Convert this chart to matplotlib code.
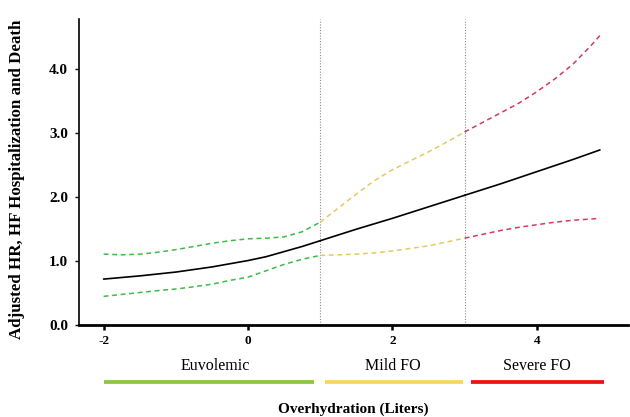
import matplotlib
matplotlib.use("Agg")
import matplotlib.pyplot as plt
from matplotlib.transforms import blended_transform_factory

plt.rcParams['font.family'] = ['Liberation Serif', 'DejaVu Serif']

# ---- data ----
x_eu = [-2.0, -1.75, -1.5, -1.25, -1.0, -0.75, -0.5, -0.25, 0.0, 0.25, 0.5, 0.75, 1.0]
hr_eu = [0.71, 0.735, 0.76, 0.79, 0.82, 0.86, 0.90, 0.95, 1.00, 1.06, 1.14, 1.22, 1.31]
up_eu = [1.10, 1.09, 1.10, 1.13, 1.17, 1.22, 1.27, 1.31, 1.34, 1.35, 1.37, 1.45, 1.60]
lo_eu = [0.44, 0.47, 0.50, 0.53, 0.555, 0.59, 0.63, 0.69, 0.74, 0.84, 0.94, 1.02, 1.08]

x_mild = [1.0, 1.25, 1.5, 1.75, 2.0, 2.25, 2.5, 2.75, 3.0]
hr_mild = [1.31, 1.40, 1.49, 1.575, 1.66, 1.75, 1.84, 1.93, 2.02]
up_mild = [1.60, 1.82, 2.04, 2.25, 2.42, 2.56, 2.70, 2.85, 3.01]
lo_mild = [1.08, 1.09, 1.10, 1.12, 1.15, 1.19, 1.23, 1.29, 1.35]

x_sev = [3.0, 3.25, 3.5, 3.75, 4.0, 4.25, 4.5, 4.75, 4.875]
hr_sev = [2.02, 2.11, 2.20, 2.295, 2.39, 2.485, 2.58, 2.68, 2.73]
up_sev = [3.01, 3.16, 3.31, 3.46, 3.64, 3.84, 4.07, 4.36, 4.52]
lo_sev = [1.35, 1.41, 1.47, 1.52, 1.56, 1.60, 1.63, 1.65, 1.66]

cutoffs = [1.0, 3.0]
categories = ["Euvolemic", "Mild FO", "Severe FO"]
cat_ranges = [(-2.0, 0.92), (1.06, 2.98), (3.09, 4.93)]
cat_label_x = [-0.45, 2.0, 4.0]
xticks = [-2, 0, 2, 4]
yticks = [0.0, 1.0, 2.0, 3.0, 4.0]

# ---- styles ----
ci_colors = ["#3dbb4a", "#e6c95e", "#d03c5c"]
bar_colors = ["#8cc63e", "#f7d55c", "#ee1111"]

fig = plt.figure(figsize=(6.3, 4.17), dpi=100)
W, H = 630, 417
left_px, right_px, bot_px, top_px = 79, 628, 324.5, 19
ax = fig.add_axes([left_px / W, 1 - bot_px / H, (right_px - left_px) / W, (bot_px - top_px) / H])

x0_px, ux = 248.0, 72.2
uy = 63.95
ax.set_xlim((left_px - x0_px) / ux, (right_px - x0_px) / ux)
ax.set_ylim(0, (bot_px - top_px) / uy)

for xc in cutoffs:
    ax.axvline(xc, color="#8a8a8a", lw=0.8, ls=(0, (1, 1.5)), zorder=1)

segments = [(x_eu, hr_eu, up_eu, lo_eu), (x_mild, hr_mild, up_mild, lo_mild), (x_sev, hr_sev, up_sev, lo_sev)]
for (xs, hr, up, lo), c in zip(segments, ci_colors):
    ax.plot(xs, up, color=c, lw=1.1, dashes=(3.2, 2.4), zorder=2)
    ax.plot(xs, lo, color=c, lw=1.1, dashes=(3.2, 2.4), zorder=2)
    ax.plot(xs, hr, color="black", lw=1.2, zorder=3, solid_capstyle="round")

ax.spines["top"].set_visible(False)
ax.spines["right"].set_visible(False)
ax.spines["left"].set_linewidth(1.2)
ax.spines["bottom"].set_linewidth(2.0)

ax.set_xticks(xticks)
ax.set_xticklabels([str(t) for t in xticks], fontweight="bold", fontsize=9.5)
ax.set_yticks(yticks)
ax.set_yticklabels([f"{t:.1f}" for t in yticks], fontweight="bold", fontsize=11)
ax.tick_params(axis="x", direction="out", length=3.5, width=1.8, pad=4)
ax.tick_params(axis="y", direction="out", length=3, width=1.0, pad=5)

trans = blended_transform_factory(ax.transData, fig.transFigure)
for (a, b), c, name, lx in zip(cat_ranges, bar_colors, categories, cat_label_x):
    ax.plot([a, b], [1 - 381.7 / H] * 2, transform=trans, color=c, lw=2.7,
            solid_capstyle="butt", clip_on=False)
    ax.text(lx, 1 - 365.7 / H, name, transform=trans, ha="center", va="center", fontsize=11.5)

fig.text((left_px + right_px) / 2 / W, 1 - 409.3 / H, "Overhydration (Liters)",
         ha="center", va="center", fontsize=11, fontweight="bold")
fig.text(17 / W, 1 - 179 / H, "Adjusted HR, HF Hospitalization and Death",
         rotation=90, ha="center", va="center", fontsize=12.2, fontweight="bold")

fig.savefig("out.png", dpi=100)
